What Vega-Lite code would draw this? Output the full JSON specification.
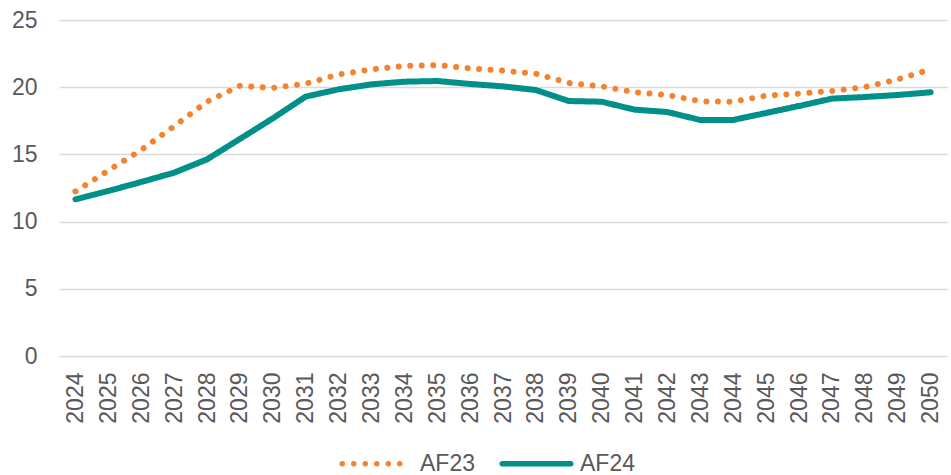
{
  "$schema": "https://vega.github.io/schema/vega-lite/v6.json",
  "autosize": "none",
  "width": 888,
  "height": 336,
  "padding": {"left": 59, "top": 20, "right": 4, "bottom": 119},
  "background": "white",
  "config": {
    "view": {"stroke": null},
    "font": "Liberation Sans",
    "axis": {"labelFont": "Liberation Sans", "labelColor": "#595959", "labelFontSize": 23},
    "legend": {"labelFont": "Liberation Sans", "labelColor": "#595959", "labelFontSize": 23}
  },
  "data": {
    "values": [
      {"year": "2024", "series": "AF23", "value": 12.25},
      {"year": "2025", "series": "AF23", "value": 13.8},
      {"year": "2026", "series": "AF23", "value": 15.33},
      {"year": "2027", "series": "AF23", "value": 17.1},
      {"year": "2028", "series": "AF23", "value": 18.92},
      {"year": "2029", "series": "AF23", "value": 20.1},
      {"year": "2030", "series": "AF23", "value": 19.95},
      {"year": "2031", "series": "AF23", "value": 20.26},
      {"year": "2032", "series": "AF23", "value": 20.95},
      {"year": "2033", "series": "AF23", "value": 21.33},
      {"year": "2034", "series": "AF23", "value": 21.58},
      {"year": "2035", "series": "AF23", "value": 21.65},
      {"year": "2036", "series": "AF23", "value": 21.4},
      {"year": "2037", "series": "AF23", "value": 21.23},
      {"year": "2038", "series": "AF23", "value": 21.0},
      {"year": "2039", "series": "AF23", "value": 20.31},
      {"year": "2040", "series": "AF23", "value": 20.06},
      {"year": "2041", "series": "AF23", "value": 19.63},
      {"year": "2042", "series": "AF23", "value": 19.42},
      {"year": "2043", "series": "AF23", "value": 18.95},
      {"year": "2044", "series": "AF23", "value": 18.92},
      {"year": "2045", "series": "AF23", "value": 19.37},
      {"year": "2046", "series": "AF23", "value": 19.52},
      {"year": "2047", "series": "AF23", "value": 19.72},
      {"year": "2048", "series": "AF23", "value": 20.01},
      {"year": "2049", "series": "AF23", "value": 20.58},
      {"year": "2050", "series": "AF23", "value": 21.33},
      {"year": "2024", "series": "AF24", "value": 11.66},
      {"year": "2025", "series": "AF24", "value": 12.28},
      {"year": "2026", "series": "AF24", "value": 12.95},
      {"year": "2027", "series": "AF24", "value": 13.64},
      {"year": "2028", "series": "AF24", "value": 14.63},
      {"year": "2029", "series": "AF24", "value": 16.15},
      {"year": "2030", "series": "AF24", "value": 17.68},
      {"year": "2031", "series": "AF24", "value": 19.3},
      {"year": "2032", "series": "AF24", "value": 19.84},
      {"year": "2033", "series": "AF24", "value": 20.21},
      {"year": "2034", "series": "AF24", "value": 20.41},
      {"year": "2035", "series": "AF24", "value": 20.46},
      {"year": "2036", "series": "AF24", "value": 20.24},
      {"year": "2037", "series": "AF24", "value": 20.06},
      {"year": "2038", "series": "AF24", "value": 19.79},
      {"year": "2039", "series": "AF24", "value": 18.97},
      {"year": "2040", "series": "AF24", "value": 18.92},
      {"year": "2041", "series": "AF24", "value": 18.33},
      {"year": "2042", "series": "AF24", "value": 18.15},
      {"year": "2043", "series": "AF24", "value": 17.56},
      {"year": "2044", "series": "AF24", "value": 17.56},
      {"year": "2045", "series": "AF24", "value": 18.08},
      {"year": "2046", "series": "AF24", "value": 18.6},
      {"year": "2047", "series": "AF24", "value": 19.15},
      {"year": "2048", "series": "AF24", "value": 19.27},
      {"year": "2049", "series": "AF24", "value": 19.42},
      {"year": "2050", "series": "AF24", "value": 19.62}
    ]
  },
  "mark": {"type": "line", "strokeCap": "round", "strokeJoin": "round", "strokeWidth": 6},
  "encoding": {
    "x": {
      "field": "year",
      "type": "ordinal",
      "scale": {"type": "point", "padding": 0.5},
      "axis": {"title": null, "labelAngle": 270, "labelPadding": 16, "ticks": false, "domain": false, "grid": false}
    },
    "y": {
      "field": "value",
      "type": "quantitative",
      "scale": {"domain": [0, 25], "nice": false},
      "axis": {"title": null, "values": [0, 5, 10, 15, 20, 25], "ticks": false, "domain": false, "labelPadding": 22, "gridColor": "#d9d9d9", "gridWidth": 1.5}
    },
    "color": {
      "field": "series",
      "type": "nominal",
      "scale": {"domain": ["AF23", "AF24"], "range": ["#F5822E", "#009089"]},
      "legend": {
        "title": null,
        "orient": "none",
        "direction": "horizontal",
        "legendX": 280,
        "legendY": 406,
        "symbolType": "stroke",
        "symbolSize": 4700,
        "symbolStrokeWidth": 5.5,
        "labelOffset": 6,
        "columnPadding": 16,
        "encode": {"symbols": {"update": {"strokeCap": {"value": "round"}}}}
      }
    },
    "strokeDash": {
      "field": "series",
      "type": "nominal",
      "scale": {"domain": ["AF23", "AF24"], "range": [[0.01, 11.5], [1, 0]]}
    }
  }
}
